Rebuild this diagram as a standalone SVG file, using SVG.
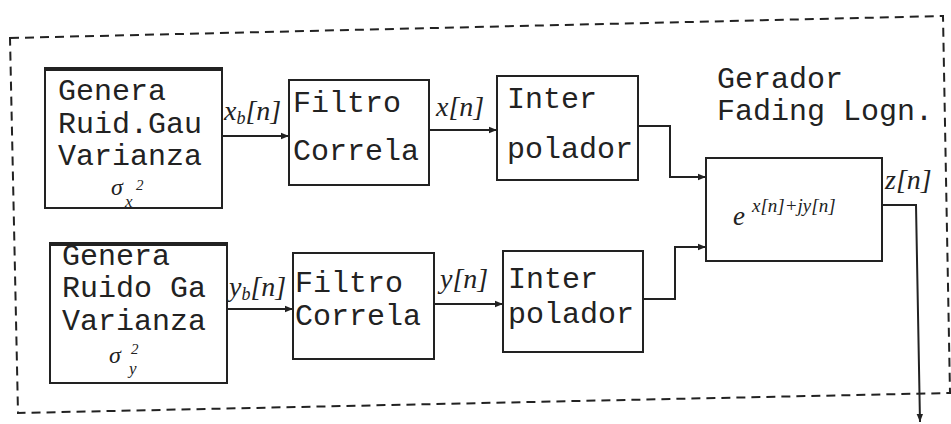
<svg xmlns="http://www.w3.org/2000/svg" width="951" height="424" viewBox="0 0 951 424">
<style>
.box{fill:none;stroke:#222;stroke-width:2}
.thick{stroke:#222;stroke-width:4}
.wire{fill:none;stroke:#222;stroke-width:2}
.t{font-family:"Liberation Mono",monospace;font-size:30px;fill:#222}
.m{font-family:"Liberation Serif",serif;font-style:italic;font-size:28px;fill:#222}
.s{font-family:"Liberation Serif",serif;font-style:italic;fill:#222}
.frame{fill:none;stroke:#222;stroke-width:2;stroke-dasharray:9 6}
</style>
<defs>
<marker id="arr" viewBox="0 0 10 10" refX="10" refY="5" markerWidth="8" markerHeight="8" markerUnits="userSpaceOnUse" orient="auto">
<path d="M0,1 L10,5 L0,9 z" fill="#222"/>
</marker>
</defs>
<rect width="951" height="424" fill="#fff"/>
<polygon class="frame" points="10,38 943,16 950,393 18,413"/>

<g id="gen1">
<rect class="box" x="45" y="68" width="177" height="140"/>
<line class="thick" x1="45" y1="69" x2="222" y2="69"/>
<text class="t" x="58" y="100">Genera</text>
<text class="t" x="58" y="133">Ruid.Gau</text>
<text class="t" x="58" y="165">Varianza</text>
<text class="s" x="111" y="195" font-size="24">σ<tspan x="136" y="190" font-size="15">2</tspan><tspan x="125" y="207" font-size="17">x</tspan></text>
</g>

<g id="gen2">
<rect class="box" x="50" y="243" width="177" height="140"/>
<line class="thick" x1="50" y1="244" x2="227" y2="244"/>
<text class="t" x="62" y="265">Genera</text>
<text class="t" x="62" y="297">Ruido Ga</text>
<text class="t" x="62" y="330">Varianza</text>
<text class="s" x="109" y="363" font-size="24">σ<tspan x="131" y="354" font-size="15">2</tspan><tspan x="129" y="374" font-size="17">y</tspan></text>
</g>

<g id="filt1">
<rect class="box" x="289" y="80" width="140" height="105"/>
<text class="t" x="293" y="112">Filtro</text>
<text class="t" x="293" y="160">Correla</text>
</g>

<g id="filt2">
<rect class="box" x="293" y="253" width="141" height="106"/>
<text class="t" x="295" y="292">Filtro</text>
<text class="t" x="295" y="325">Correla</text>
</g>

<g id="interp1">
<rect class="box" x="497" y="76" width="141" height="104"/>
<text class="t" x="507" y="108">Inter</text>
<text class="t" x="507" y="158">polador</text>
</g>

<g id="interp2">
<rect class="box" x="503" y="251" width="140" height="101"/>
<text class="t" x="508" y="288">Inter</text>
<text class="t" x="508" y="323">polador</text>
</g>

<g id="exp">
<rect class="box" x="706" y="158" width="176" height="103"/>
<text class="s" x="733" y="225" font-size="27" font-style="normal">e<tspan x="752" y="212" font-size="19" font-style="italic">x[n]+jy[n]</tspan></text>
</g>

<g id="title">
<text class="t" x="717" y="88">Gerador</text>
<text class="t" x="717" y="120">Fading Logn.</text>
</g>

<g id="connectors">
<line class="wire" x1="222" y1="136" x2="289" y2="136" marker-end="url(#arr)"/>
<line class="wire" x1="429" y1="130" x2="497" y2="130" marker-end="url(#arr)"/>
<polyline class="wire" points="638,126 670,126 670,177 706,177" marker-end="url(#arr)"/>
<line class="wire" x1="227" y1="309" x2="293" y2="309" marker-end="url(#arr)"/>
<line class="wire" x1="434" y1="304" x2="503" y2="304" marker-end="url(#arr)"/>
<polyline class="wire" points="643,299 675,299 675,247 706,247" marker-end="url(#arr)"/>
<polyline class="wire" points="882,205 916,205 920,422" marker-end="url(#arr)"/>
<text class="m" x="224" y="120">x<tspan font-size="18" dy="4">b</tspan><tspan dy="-4">[n]</tspan></text>
<text class="m" x="436" y="116">x[n]</text>
<text class="m" x="229" y="296">y<tspan font-size="18" dy="4">b</tspan><tspan dy="-4">[n]</tspan></text>
<text class="m" x="440" y="288">y[n]</text>
<text class="m" x="885" y="189" font-size="30">z[n]</text>
</g>
</svg>
